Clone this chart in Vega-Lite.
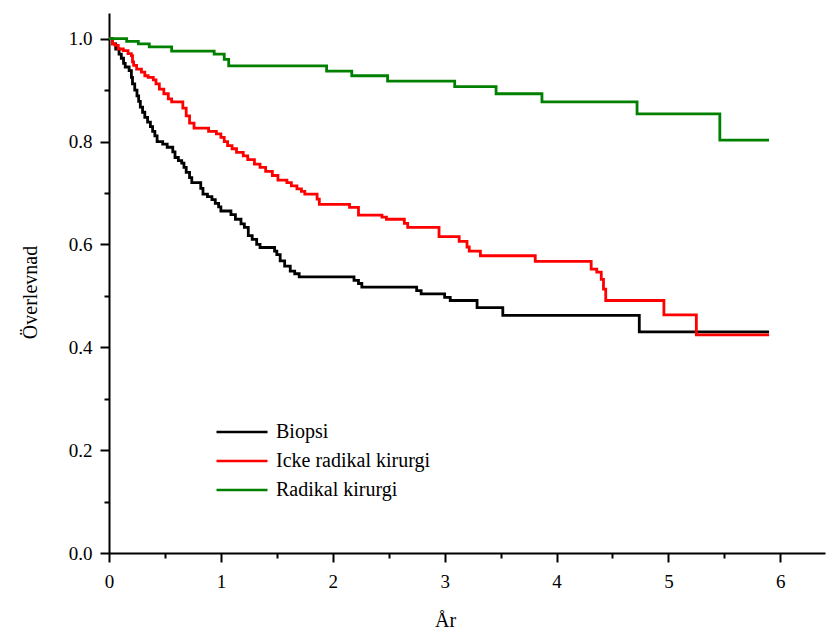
{
  "$schema": "https://vega.github.io/schema/vega-lite/v6.json",
  "width": 716,
  "height": 540,
  "autosize": {"type": "none"},
  "padding": {"left": 109, "top": 13, "right": 2, "bottom": 78},
  "background": "white",
  "config": {
    "view": {"stroke": null},
    "font": "'Liberation Serif', 'Times New Roman', serif",
    "axis": {
      "grid": false,
      "domainColor": "black",
      "domainWidth": 2,
      "tickColor": "black",
      "tickWidth": 2,
      "labelFlush": false,
      "labelFont": "'Liberation Serif', 'Times New Roman', serif",
      "labelFontSize": 19,
      "labelColor": "black",
      "titleFont": "'Liberation Serif', 'Times New Roman', serif",
      "titleFontSize": 20,
      "titleFontWeight": "normal",
      "titleColor": "black"
    }
  },
  "data": {
    "values": [
      {"group": "Biopsi", "t": 0, "S": 1.0},
      {"group": "Biopsi", "t": 0.03, "S": 0.99},
      {"group": "Biopsi", "t": 0.06, "S": 0.98},
      {"group": "Biopsi", "t": 0.09, "S": 0.97},
      {"group": "Biopsi", "t": 0.11, "S": 0.962},
      {"group": "Biopsi", "t": 0.13, "S": 0.952},
      {"group": "Biopsi", "t": 0.145, "S": 0.945},
      {"group": "Biopsi", "t": 0.18, "S": 0.938},
      {"group": "Biopsi", "t": 0.2, "S": 0.925},
      {"group": "Biopsi", "t": 0.21, "S": 0.912},
      {"group": "Biopsi", "t": 0.23, "S": 0.9},
      {"group": "Biopsi", "t": 0.25, "S": 0.889},
      {"group": "Biopsi", "t": 0.265, "S": 0.878},
      {"group": "Biopsi", "t": 0.28, "S": 0.867},
      {"group": "Biopsi", "t": 0.3, "S": 0.857},
      {"group": "Biopsi", "t": 0.32, "S": 0.847},
      {"group": "Biopsi", "t": 0.345, "S": 0.838},
      {"group": "Biopsi", "t": 0.37, "S": 0.829},
      {"group": "Biopsi", "t": 0.39, "S": 0.82},
      {"group": "Biopsi", "t": 0.41, "S": 0.811},
      {"group": "Biopsi", "t": 0.43, "S": 0.8},
      {"group": "Biopsi", "t": 0.48, "S": 0.795},
      {"group": "Biopsi", "t": 0.52, "S": 0.789},
      {"group": "Biopsi", "t": 0.57, "S": 0.78},
      {"group": "Biopsi", "t": 0.59, "S": 0.769},
      {"group": "Biopsi", "t": 0.62, "S": 0.763},
      {"group": "Biopsi", "t": 0.65, "S": 0.758},
      {"group": "Biopsi", "t": 0.67, "S": 0.75},
      {"group": "Biopsi", "t": 0.69, "S": 0.74},
      {"group": "Biopsi", "t": 0.72, "S": 0.73},
      {"group": "Biopsi", "t": 0.74, "S": 0.72},
      {"group": "Biopsi", "t": 0.82, "S": 0.709},
      {"group": "Biopsi", "t": 0.84, "S": 0.698},
      {"group": "Biopsi", "t": 0.88, "S": 0.693},
      {"group": "Biopsi", "t": 0.92, "S": 0.687},
      {"group": "Biopsi", "t": 0.95, "S": 0.68},
      {"group": "Biopsi", "t": 0.98, "S": 0.673},
      {"group": "Biopsi", "t": 1.0, "S": 0.665},
      {"group": "Biopsi", "t": 1.09, "S": 0.658},
      {"group": "Biopsi", "t": 1.13, "S": 0.649},
      {"group": "Biopsi", "t": 1.18, "S": 0.64},
      {"group": "Biopsi", "t": 1.21, "S": 0.633},
      {"group": "Biopsi", "t": 1.245, "S": 0.617},
      {"group": "Biopsi", "t": 1.28, "S": 0.61},
      {"group": "Biopsi", "t": 1.32, "S": 0.6},
      {"group": "Biopsi", "t": 1.35, "S": 0.594},
      {"group": "Biopsi", "t": 1.48, "S": 0.587},
      {"group": "Biopsi", "t": 1.5, "S": 0.58},
      {"group": "Biopsi", "t": 1.53, "S": 0.568},
      {"group": "Biopsi", "t": 1.57, "S": 0.558},
      {"group": "Biopsi", "t": 1.62, "S": 0.548},
      {"group": "Biopsi", "t": 1.66, "S": 0.543},
      {"group": "Biopsi", "t": 1.7, "S": 0.537},
      {"group": "Biopsi", "t": 2.19, "S": 0.53},
      {"group": "Biopsi", "t": 2.23, "S": 0.524},
      {"group": "Biopsi", "t": 2.26, "S": 0.517},
      {"group": "Biopsi", "t": 2.75, "S": 0.51},
      {"group": "Biopsi", "t": 2.79, "S": 0.504},
      {"group": "Biopsi", "t": 3.0, "S": 0.497},
      {"group": "Biopsi", "t": 3.05, "S": 0.491},
      {"group": "Biopsi", "t": 3.29, "S": 0.477},
      {"group": "Biopsi", "t": 3.52, "S": 0.462},
      {"group": "Biopsi", "t": 4.74, "S": 0.43},
      {"group": "Biopsi", "t": 5.9, "S": 0.43},

      {"group": "Icke radikal kirurgi", "t": 0, "S": 1.0},
      {"group": "Icke radikal kirurgi", "t": 0.03, "S": 0.99},
      {"group": "Icke radikal kirurgi", "t": 0.054, "S": 0.987},
      {"group": "Icke radikal kirurgi", "t": 0.083, "S": 0.98},
      {"group": "Icke radikal kirurgi", "t": 0.128, "S": 0.977},
      {"group": "Icke radikal kirurgi", "t": 0.17, "S": 0.971},
      {"group": "Icke radikal kirurgi", "t": 0.2, "S": 0.967},
      {"group": "Icke radikal kirurgi", "t": 0.21, "S": 0.955},
      {"group": "Icke radikal kirurgi", "t": 0.22, "S": 0.948},
      {"group": "Icke radikal kirurgi", "t": 0.247, "S": 0.941},
      {"group": "Icke radikal kirurgi", "t": 0.29, "S": 0.935},
      {"group": "Icke radikal kirurgi", "t": 0.32, "S": 0.928},
      {"group": "Icke radikal kirurgi", "t": 0.35, "S": 0.925},
      {"group": "Icke radikal kirurgi", "t": 0.396, "S": 0.92},
      {"group": "Icke radikal kirurgi", "t": 0.42, "S": 0.912},
      {"group": "Icke radikal kirurgi", "t": 0.45, "S": 0.902},
      {"group": "Icke radikal kirurgi", "t": 0.49, "S": 0.893},
      {"group": "Icke radikal kirurgi", "t": 0.53, "S": 0.883},
      {"group": "Icke radikal kirurgi", "t": 0.56, "S": 0.877},
      {"group": "Icke radikal kirurgi", "t": 0.66, "S": 0.865},
      {"group": "Icke radikal kirurgi", "t": 0.69, "S": 0.85},
      {"group": "Icke radikal kirurgi", "t": 0.72, "S": 0.836},
      {"group": "Icke radikal kirurgi", "t": 0.76, "S": 0.826},
      {"group": "Icke radikal kirurgi", "t": 0.89, "S": 0.82},
      {"group": "Icke radikal kirurgi", "t": 0.96, "S": 0.815},
      {"group": "Icke radikal kirurgi", "t": 1.0, "S": 0.808},
      {"group": "Icke radikal kirurgi", "t": 1.03, "S": 0.8},
      {"group": "Icke radikal kirurgi", "t": 1.06, "S": 0.792},
      {"group": "Icke radikal kirurgi", "t": 1.1, "S": 0.786},
      {"group": "Icke radikal kirurgi", "t": 1.14, "S": 0.779},
      {"group": "Icke radikal kirurgi", "t": 1.2, "S": 0.772},
      {"group": "Icke radikal kirurgi", "t": 1.24, "S": 0.765},
      {"group": "Icke radikal kirurgi", "t": 1.3, "S": 0.756},
      {"group": "Icke radikal kirurgi", "t": 1.35, "S": 0.75},
      {"group": "Icke radikal kirurgi", "t": 1.4, "S": 0.742},
      {"group": "Icke radikal kirurgi", "t": 1.46, "S": 0.734},
      {"group": "Icke radikal kirurgi", "t": 1.51, "S": 0.725},
      {"group": "Icke radikal kirurgi", "t": 1.59, "S": 0.72},
      {"group": "Icke radikal kirurgi", "t": 1.63, "S": 0.714},
      {"group": "Icke radikal kirurgi", "t": 1.68, "S": 0.708},
      {"group": "Icke radikal kirurgi", "t": 1.72, "S": 0.703},
      {"group": "Icke radikal kirurgi", "t": 1.75, "S": 0.698},
      {"group": "Icke radikal kirurgi", "t": 1.86, "S": 0.688},
      {"group": "Icke radikal kirurgi", "t": 1.88, "S": 0.678},
      {"group": "Icke radikal kirurgi", "t": 2.15, "S": 0.672},
      {"group": "Icke radikal kirurgi", "t": 2.23, "S": 0.657},
      {"group": "Icke radikal kirurgi", "t": 2.44, "S": 0.653},
      {"group": "Icke radikal kirurgi", "t": 2.48, "S": 0.649},
      {"group": "Icke radikal kirurgi", "t": 2.64, "S": 0.641},
      {"group": "Icke radikal kirurgi", "t": 2.67, "S": 0.633},
      {"group": "Icke radikal kirurgi", "t": 2.95, "S": 0.615},
      {"group": "Icke radikal kirurgi", "t": 3.13, "S": 0.606},
      {"group": "Icke radikal kirurgi", "t": 3.2, "S": 0.595},
      {"group": "Icke radikal kirurgi", "t": 3.22, "S": 0.587},
      {"group": "Icke radikal kirurgi", "t": 3.32, "S": 0.578},
      {"group": "Icke radikal kirurgi", "t": 3.81, "S": 0.567},
      {"group": "Icke radikal kirurgi", "t": 4.31, "S": 0.552},
      {"group": "Icke radikal kirurgi", "t": 4.36, "S": 0.546},
      {"group": "Icke radikal kirurgi", "t": 4.4, "S": 0.532},
      {"group": "Icke radikal kirurgi", "t": 4.42, "S": 0.513},
      {"group": "Icke radikal kirurgi", "t": 4.44, "S": 0.491},
      {"group": "Icke radikal kirurgi", "t": 4.96, "S": 0.463},
      {"group": "Icke radikal kirurgi", "t": 5.25, "S": 0.424},
      {"group": "Icke radikal kirurgi", "t": 5.9, "S": 0.424},

      {"group": "Radikal kirurgi", "t": 0, "S": 1.0},
      {"group": "Radikal kirurgi", "t": 0.158, "S": 0.995},
      {"group": "Radikal kirurgi", "t": 0.262, "S": 0.99},
      {"group": "Radikal kirurgi", "t": 0.36, "S": 0.984},
      {"group": "Radikal kirurgi", "t": 0.56, "S": 0.976},
      {"group": "Radikal kirurgi", "t": 0.94, "S": 0.97},
      {"group": "Radikal kirurgi", "t": 1.03, "S": 0.96},
      {"group": "Radikal kirurgi", "t": 1.07, "S": 0.947},
      {"group": "Radikal kirurgi", "t": 1.945, "S": 0.937},
      {"group": "Radikal kirurgi", "t": 2.17, "S": 0.928},
      {"group": "Radikal kirurgi", "t": 2.49, "S": 0.9175},
      {"group": "Radikal kirurgi", "t": 3.09, "S": 0.907},
      {"group": "Radikal kirurgi", "t": 3.46, "S": 0.893},
      {"group": "Radikal kirurgi", "t": 3.87, "S": 0.877},
      {"group": "Radikal kirurgi", "t": 4.72, "S": 0.854},
      {"group": "Radikal kirurgi", "t": 5.46, "S": 0.803},
      {"group": "Radikal kirurgi", "t": 5.9, "S": 0.803}
    ]
  },
  "layer": [
    {
      "mark": {"type": "line", "interpolate": "step-after", "strokeWidth": 2.8},
      "encoding": {
        "x": {
          "field": "t", "type": "quantitative",
          "scale": {"domain": [0, 6.4], "nice": false, "zero": false},
          "axis": {
            "orient": "bottom",
            "values": [0, 1, 2, 3, 4, 5, 6],
            "format": "d",
            "tickSize": 9,
            "labelPadding": 10,
            "title": "År",
            "titleX": 336,
            "titleY": 67,
            "titleAnchor": null,
            "titleBaseline": "middle",
            "titleAlign": "center"
          }
        },
        "y": {
          "field": "S", "type": "quantitative",
          "scale": {"domain": [0, 1.05], "nice": false, "zero": false},
          "axis": {
            "orient": "left",
            "values": [0, 0.2, 0.4, 0.6, 0.8, 1.0],
            "format": ".1f",
            "tickSize": 9,
            "labelPadding": 8,
            "title": "Överlevnad",
            "titleX": -79,
            "titleY": 279,
            "titleAngle": -90,
            "titleBaseline": "middle",
            "titleAlign": "center"
          }
        },
        "color": {
          "field": "group", "type": "nominal",
          "scale": {
            "domain": ["Biopsi", "Icke radikal kirurgi", "Radikal kirurgi"],
            "range": ["#000000", "#ff0000", "#008000"]
          },
          "legend": {
            "title": null,
            "orient": "none",
            "legendX": 106,
            "legendY": 410,
            "padding": 0,
            "symbolType": "stroke",
            "symbolSize": 2601,
            "symbolStrokeWidth": 2.5,
            "clipHeight": 18,
            "rowPadding": 9,
            "labelFont": "'Liberation Serif', 'Times New Roman', serif",
            "labelFontSize": 20,
            "labelColor": "black",
            "labelOffset": 7
          }
        }
      }
    },
    {
      "mark": {"type": "point", "opacity": 0},
      "encoding": {
        "x": {
          "field": "t", "type": "quantitative",
          "scale": {"domain": [0, 6.4], "nice": false, "zero": false},
          "axis": {
            "orient": "bottom",
            "values": [0.5, 1.5, 2.5, 3.5, 4.5, 5.5],
            "labels": false,
            "domain": false,
            "tickSize": 5,
            "title": null
          }
        },
        "y": {
          "field": "S", "type": "quantitative",
          "scale": {"domain": [0, 1.05], "nice": false, "zero": false},
          "axis": {
            "orient": "left",
            "values": [0.1, 0.3, 0.5, 0.7, 0.9],
            "labels": false,
            "domain": false,
            "tickSize": 5,
            "title": null
          }
        }
      }
    }
  ],
  "resolve": {"axis": {"x": "independent", "y": "independent"}}
}
